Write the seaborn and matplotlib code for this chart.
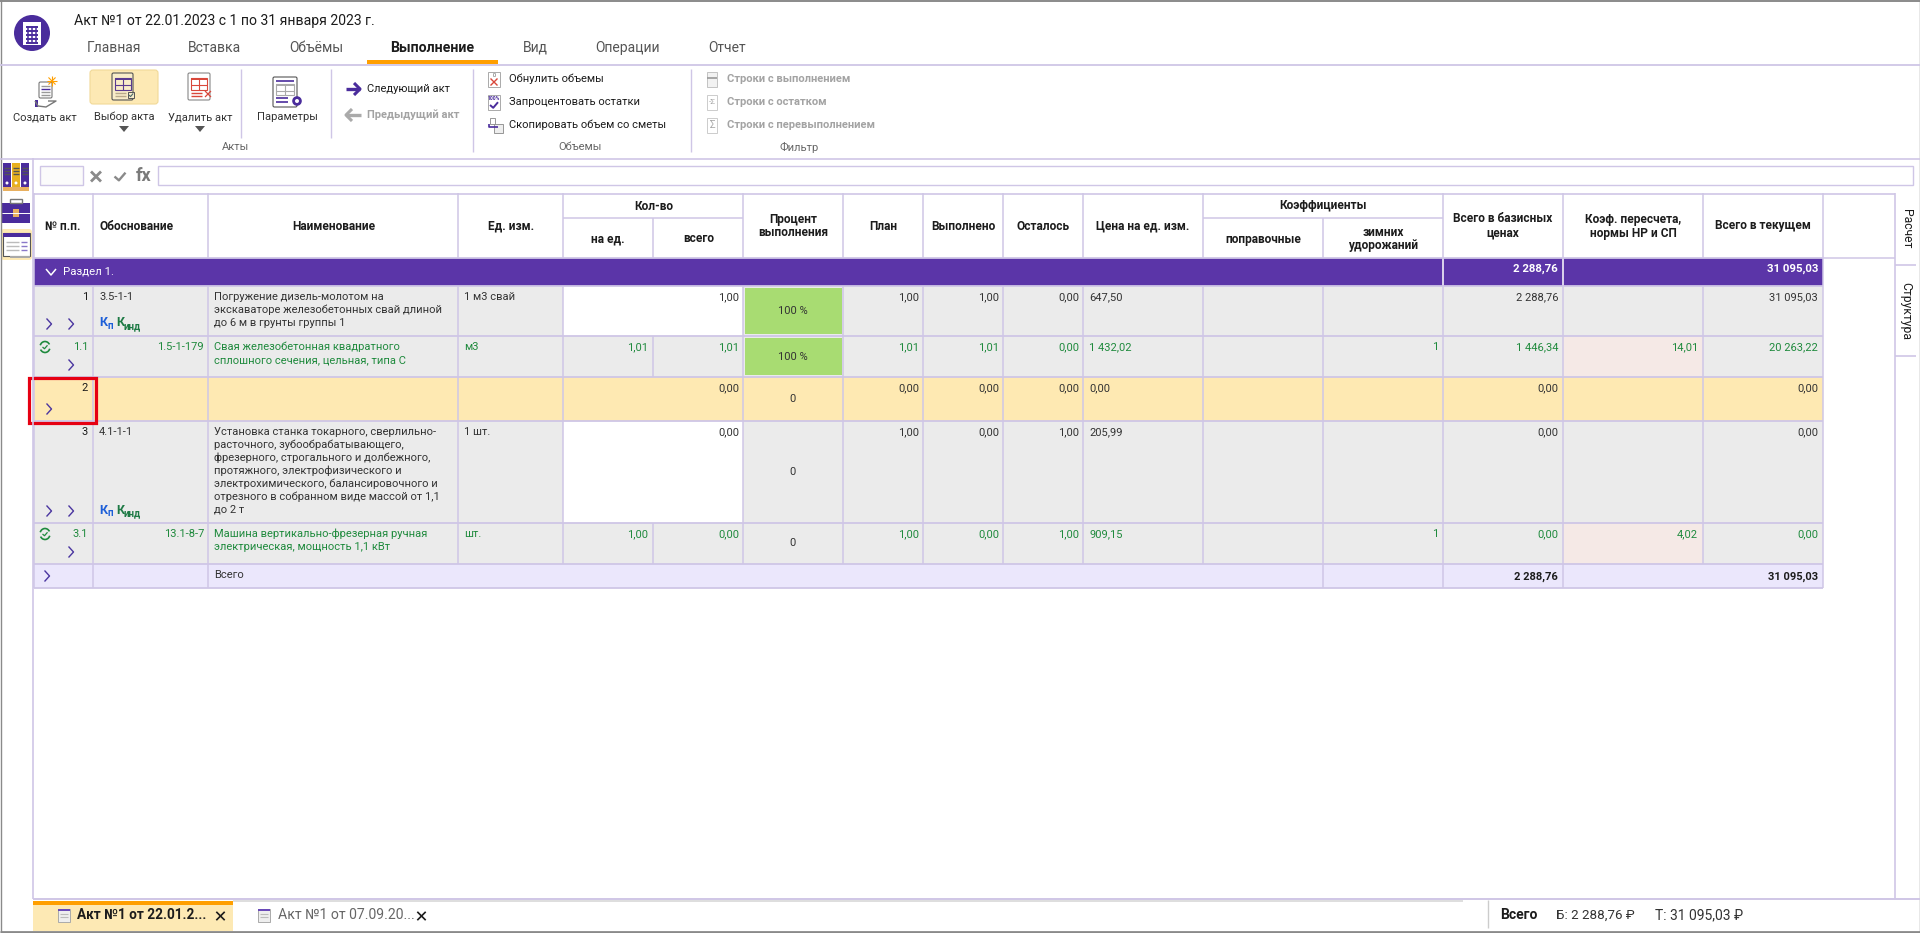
import numpy as np
import pandas as pd
import matplotlib.pyplot as plt
from matplotlib.colors import ListedColormap
from matplotlib.patches import Rectangle, Circle, FancyBboxPatch, Arc
import seaborn as sns

sns.set_theme(style="white")
plt.rcParams["font.family"] = ["Roboto", "DejaVu Sans"]

# table values
row_no = ["1", "1.1", "2", "3", "3.1"]
basis = ["3.5-1-1", "1.5-1-179", "", "4.1-1-1", "13.1-8-7"]
names = [
    ["Погружение дизель-молотом на", "экскаваторе железобетонных свай длиной", "до 6 м в грунты группы 1"],
    ["Свая железобетонная квадратного", "сплошного сечения, цельная, типа С"],
    [],
    ["Установка станка токарного, сверлильно-", "расточного, зубообрабатывающего,",
     "фрезерного, строгального и долбежного,", "протяжного, электрофизического и",
     "электрохимического, балансировочного и", "отрезного в собранном виде массой от 1,1", "до 2 т"],
    ["Машина вертикально-фрезерная ручная", "электрическая, мощность 1,1 кВт"],
]
units = ["1 м3 свай", "м3", "", "1 шт.", "шт."]
qty_unit = ["", "1,01", "", "", "1,00"]
qty_total = ["1,00", "1,01", "0,00", "0,00", "0,00"]
percent = ["100 %", "100 %", "0", "0", "0"]
plan = ["1,00", "1,01", "0,00", "1,00", "1,00"]
done = ["1,00", "1,01", "0,00", "0,00", "0,00"]
left = ["0,00", "0,00", "0,00", "1,00", "1,00"]
price = ["647,50", "1 432,02", "0,00", "205,99", "909,15"]
winter = ["", "1", "", "", "1"]
total_base = ["2 288,76", "1 446,34", "0,00", "0,00", "0,00"]
recalc = ["", "14,01", "", "", "4,02"]
total_now = ["31 095,03", "20 263,22", "0,00", "0,00", "0,00"]
is_child = [False, True, False, False, True]
section_base = "2 288,76"
section_now = "31 095,03"

main_tabs = ["Главная", "Вставка", "Объёмы", "Выполнение", "Вид", "Операции", "Отчет"]

# geometry of the grid in screen pixels
col_edges = [34, 93, 208, 458, 563, 653, 743, 843, 923, 1003, 1083, 1203, 1323, 1443, 1563, 1703, 1823]
row_edges = [258, 286, 336, 377, 421, 523, 564, 588]

PURPLE = "#5b35a8"
INDIGO = "#4a2c9c"
GRID = "#cfc6e6"
GREY = "#ebebeb"
YELLOW = "#fee9b2"
LILAC = "#ebe7fc"
PINK = "#f5e9e6"
WHITE = "#ffffff"
GREEN = "#1f8a3d"
DARK = "#333333"
BLACK = "#1c1c1c"
MUTED = "#a3a3a3"
RED = "#d9483b"

# colour code of every table cell: 0 purple, 1 grey, 2 white, 3 yellow, 4 pink, 5 lilac
codes = np.ones((7, 16), dtype=int)
codes[0, :] = 0
codes[1, 4:6] = 2
codes[4, 4:6] = 2
codes[3, :] = 3
codes[2, 14] = 4
codes[5, 14] = 4
codes[6, :] = 5
cell_cmap = ListedColormap([PURPLE, GREY, WHITE, YELLOW, PINK, LILAC])

fig = plt.figure(figsize=(19.2, 9.33), dpi=100)
fig.patch.set_facecolor("white")

ax = fig.add_axes([34 / 1920, 1 - 588 / 933, (1823 - 34) / 1920, (588 - 258) / 933], zorder=1)
sns.heatmap(pd.DataFrame(codes), cmap=cell_cmap, vmin=-0.5, vmax=5.5, cbar=False,
            xticklabels=False, yticklabels=False, ax=ax)

col_idx = np.arange(len(col_edges), dtype=float)
row_idx = np.arange(len(row_edges), dtype=float)
ax.set_xscale("function", functions=(lambda v: np.interp(v, col_idx, col_edges),
                                     lambda v: np.interp(v, col_edges, col_idx)))
ax.set_yscale("function", functions=(lambda v: np.interp(v, row_idx, row_edges),
                                     lambda v: np.interp(v, row_edges, row_idx)))
ax.set_xlim(0, 16)
ax.set_ylim(7, 0)
ax.set_xticks([])
ax.set_yticks([])
ax.minorticks_off()
ax.set_xlabel("")
ax.set_ylabel("")
for s in ax.spines.values():
    s.set_visible(False)

# inner grid, some cells are merged
skip = {0: set(range(1, 16)) - {13, 14}, 1: {5}, 3: {5}, 4: {5}, 6: set(range(3, 12)) | {15}}
for r in range(7):
    for c in range(0, 17):
        if c in skip.get(r, ()):
            continue
        col = WHITE if r == 0 and c in (13, 14) else GRID
        ax.vlines(c, r, r + 1, color=col, lw=1.1, clip_on=False)
ax.hlines(range(8), 0, 16, color=GRID, lw=1.3, clip_on=False)

# screen layer for the texts and the application frame
ui = fig.add_axes([0, 0, 1, 1], zorder=2)
ui.set_xlim(0, 1920)
ui.set_ylim(933, 0)
ui.axis("off")


def txt(x, y, s, size=8, color=DARK, ha="left", weight="normal", **kw):
    ui.text(x, y, s, fontsize=size, color=color, ha=ha, va="center", fontweight=weight, **kw)


def box(x0, y0, x1, y1, fc="none", ec="none", lw=1.0, **kw):
    ui.add_patch(Rectangle((x0, y0), x1 - x0, y1 - y0, facecolor=fc, edgecolor=ec, lw=lw, **kw))


def line(xs, ys, color=GRID, lw=1.0, **kw):
    ui.plot(xs, ys, color=color, lw=lw, solid_capstyle="butt", **kw)


def chevron(x, y, color="#4a35a0"):
    line([x - 2.5, x + 2.5, x - 2.5], [y - 5.5, y, y + 5.5], color=color, lw=1)


def cross(x, y, r, color, lw=1.2):
    line([x - r, x + r], [y - r, y + r], color=color, lw=lw)
    line([x - r, x + r], [y + r, y - r], color=color, lw=lw)


def tick(x, y, r, color, lw=1.5):
    line([x - r, x - r * 0.2, x + r], [y, y + r * 0.7, y - r * 0.7], color=color, lw=lw)


def page(x0, y0, x1, y1, fc="white", ec="#555555"):
    ui.add_patch(FancyBboxPatch((x0, y0), x1 - x0, y1 - y0, boxstyle="round,pad=0,rounding_size=1.5",
                                fc=fc, ec=ec, lw=0.8))


def table_icon(x0, y0, x1, y1, color):
    box(x0, y0, x1, y1, ec=color, lw=0.8)
    box(x0, y0, x1, y0 + 2, fc=color)
    line([x0, x1], [(y0 + y1) / 2 + 1] * 2, color=color, lw=0.8)
    line([(x0 + x1) / 2] * 2, [y0, y1], color=color, lw=0.8)


def tab_icon(x, y):
    box(x - 6, y - 6.5, x + 6, y + 6.5, fc="#eeeeee", ec="#aaaaaa", lw=0.7)
    box(x - 6, y - 6.5, x + 6, y - 4, fc="#6a4ab8")
    for yy in (y - 1, y + 2):
        line([x - 4, x + 4], [yy, yy], color="#bbbbbb", lw=0.8)


# outer frame
line([0.5, 0.5], [0, 933], color="#8a8a8a", lw=1)
line([1919.5, 1919.5], [0, 933], color="#8a8a8a", lw=1)
line([0, 1920], [0.8, 0.8], color="#8a8a8a", lw=1.4)
line([0, 1920], [932, 932], color="#8a8a8a", lw=2)

# title and main tabs
ui.add_patch(Circle((32, 33), 18, fc=INDIGO, ec="none"))
box(23, 22, 41, 45, fc="white")
for gy in range(27, 44, 4):
    line([26, 38], [gy, gy], color=INDIGO, lw=1.4)
for gx in range(28, 38, 4):
    line([gx, gx], [26, 43], color=INDIGO, lw=1.1)
txt(74, 21, "Акт №1 от 22.01.2023 с 1 по 31 января 2023 г.", size=10.1, color=BLACK)
tab_x = [114, 214, 316, 432, 535, 628, 727]
for x, name in zip(tab_x, main_tabs):
    active = name == "Выполнение"
    txt(x, 48, name, size=10.2 if active else 10, ha="center", color=BLACK if active else "#555555",
        weight="bold" if active else "normal")
box(367, 60, 498, 64, fc="#ff9f00")
line([0, 1920], [64.5, 64.5], lw=1.3)

# ribbon: create act
page(39, 82, 52, 98, ec="#777777")
for yy, c in ((86, "#999999"), (89, INDIGO), (92, "#999999"), (95, "#999999")):
    line([41, 50], [yy, yy], color=c, lw=1)
line([35, 38, 46, 56, 48], [101, 106, 107, 101, 101], color="#777777", lw=1)
box(35, 100, 38, 107, fc=INDIGO)
for a in np.arange(0, 180, 45):
    dx, dy = 5 * np.cos(np.radians(a)), 5 * np.sin(np.radians(a))
    line([52 - dx, 52 + dx], [81 - dy, 81 + dy], color="#ff9f00", lw=0.8)

# ribbon: choose act
ui.add_patch(FancyBboxPatch((90, 70), 68, 34, boxstyle="round,pad=0,rounding_size=3",
                            fc="#fde9b4", ec="#f1d998", lw=0.8))
page(112, 73, 133, 100, fc="#f8ecc9")
table_icon(114.5, 78, 131, 90, "#5a3a90")
for yy in (93, 96):
    line([115, 126], [yy, yy], color="#b8a98a", lw=1)
box(128, 92, 134, 98, fc="#f8ecc9", ec="#555555", lw=0.7)
tick(131, 95, 2.2, "#4a6a6a", lw=0.8)

# ribbon: delete act
page(188, 73, 210, 100, fc="white", ec="#888888")
table_icon(191, 78, 207, 90, RED)
for yy in (93, 96):
    line([191, 202], [yy, yy], color=RED, lw=1)
cross(208, 94, 3, RED, lw=0.9)

# ribbon: parameters
page(273, 77, 297, 107, fc="white", ec="#555555")
line([276, 294], [80.5, 80.5], color=INDIGO, lw=1.2)
table_icon(276, 84, 294, 95, "#aaaaaa")
line([276, 288], [98, 98], color=INDIGO, lw=1.2)
line([276, 288], [102, 102], color=INDIGO, lw=1.2)
ui.add_patch(Circle((297, 101), 3.4, fc="white", ec=INDIGO, lw=2))

txt(45, 117, "Создать акт", ha="center", size=8)
txt(124, 117, "Выбор акта", ha="center", size=8)
txt(200, 117, "Удалить акт", ha="center", size=8)
txt(287, 117, "Параметры", ha="center", size=8)
for cx in (124, 200):
    ui.fill([cx - 5, cx + 5, cx], [126, 126, 132], color="#555555", lw=0)
txt(235, 147, "Акты", ha="center", size=8, color="#666666")
txt(580, 147, "Объемы", ha="center", size=8, color="#666666")
txt(799, 147, "Фильтр", ha="center", size=8, color="#666666")
for x, y1 in ((241, 138), (331, 138), (473, 152), (691, 152)):
    line([x, x], [69, y1], lw=1)

# ribbon: next and previous act
line([346, 360], [89, 89], color=INDIGO, lw=2.4)
line([354, 360, 354], [83, 89, 95], color=INDIGO, lw=2.2)
line([346, 361], [115, 115], color="#aaaaaa", lw=2.4)
line([352, 346, 352], [109, 115, 121], color="#aaaaaa", lw=2.2)
txt(367, 89, "Следующий акт", size=8, color=BLACK)
txt(367, 115, "Предыдущий акт", size=8, color=MUTED, weight="bold")

# ribbon: volume commands
box(488, 72, 500, 87, fc="white", ec="#aaaaaa", lw=0.7)
cross(494, 82, 3.5, RED, lw=1)
txt(494, 75.5, "0", size=4, ha="center", color="#555555")
box(488, 95, 500, 110, fc="white", ec="#aaaaaa", lw=0.7)
txt(494, 98.5, "100%", size=3.6, ha="center", color=INDIGO, weight="bold")
tick(494, 105, 4, INDIGO, lw=1.4)
box(490, 118, 495, 124, fc="white", ec="#888888", lw=0.6)
box(494, 124, 503, 133, fc="#eeeeee", ec="#888888", lw=0.6)
line([489, 489, 498], [124, 127, 127], color=INDIGO, lw=1.2)
txt(509, 79, "Обнулить объемы", size=8, color=BLACK)
txt(509, 102, "Запроцентовать остатки", size=8, color=BLACK)
txt(509, 125, "Скопировать объем со сметы", size=8, color=BLACK)

# ribbon: filter commands
box(707, 72, 717, 87, fc="#f2f2f2", ec="#bbbbbb", lw=0.6)
line([707, 717], [78, 78], color="#999999", lw=1.2)
box(707, 95, 717, 110, fc="white", ec="#cccccc", lw=0.7)
txt(712, 102.5, "-Σ", size=6, ha="center", color="#aaaaaa")
box(707, 118, 717, 133, fc="white", ec="#cccccc", lw=0.7)
txt(712, 125.5, "Σ", size=7, ha="center", color="#aaaaaa")
for y, label in zip((79, 102, 125), ("Строки с выполнением", "Строки с остатком", "Строки с перевыполнением")):
    txt(727, y, label, size=8, color=MUTED, weight="bold")
line([0, 1920], [158.5, 158.5], lw=1.2)

# formula bar
box(40, 166, 83, 185, fc="#fbfbfb", ec=GRID)
cross(96, 176.5, 5, "#8a8a8a", lw=2)
tick(120, 176.5, 5.5, "#8a8a8a", lw=1.7)
txt(144, 176, "fx", size=13, ha="center", color="#7a7a7a", weight="bold")
box(158, 166, 1913, 185, fc="white", ec=GRID)

# left toolbar
line([33, 33], [158, 899], lw=1.2)
for i, c in enumerate((INDIGO, "#e8b020", INDIGO)):
    box(3 + i * 9, 163, 11 + i * 9, 187, fc=c)
    for yy in (168, 171, 174):
        line([4 + i * 9, 10 + i * 9], [yy, yy], color="#555555", lw=1)
    ui.add_patch(Circle((7 + i * 9, 183), 1.5, fc="white", ec="none"))
box(3, 187, 29, 191, fc="#e8b060")
box(2, 203, 30, 223, fc=INDIGO)
box(10, 198.5, 22, 203, ec="#777777", lw=1)
line([2, 30], [213, 213], color="white", lw=0.7)
box(13, 209, 19, 217, fc="#e8b060")
ui.add_patch(FancyBboxPatch((1, 229), 31, 31, boxstyle="round,pad=0,rounding_size=3", fc="#fde9b4", ec="none"))
box(3, 233, 30, 256, fc="white", ec="#555555", lw=0.8)
box(3, 233, 30, 237, fc=INDIGO)
for y, c in ((242, "#bbbbbb"), (246, "#bbbbbb"), (250, "#bbbbbb")):
    line([6, 19], [y, y], color=c, lw=1)
    line([21, 27], [y, y], color="#8a78c9", lw=1)
box(10, 256, 30, 258, fc="#aaaaaa")

# table header
line([34, 1895], [193.5, 193.5], lw=1.2)
for x in col_edges:
    if x in (653, 1323):
        line([x, x], [218, 258], lw=1.1)
    else:
        line([x, x], [193, 258], lw=1.1)
line([563, 743], [218, 218], lw=1.1)
line([1203, 1443], [218, 218], lw=1.1)
line([1823, 1895], [258, 258], lw=1.1)
H = dict(size=8.6, color=BLACK, weight="bold")
txt(63, 226, "№ п.п.", ha="center", **H)
txt(100, 226, "Обоснование", **H)
txt(334, 226, "Наименование", ha="center", **H)
txt(511, 226, "Ед. изм.", ha="center", **H)
txt(654, 206, "Кол-во", ha="center", **H)
txt(608, 239, "на ед.", ha="center", **H)
txt(699, 239, "всего", ha="center", **H)
txt(793, 219, "Процент", ha="center", **H)
txt(793, 233, "выполнения", ha="center", **H)
txt(883, 226, "План", ha="center", **H)
txt(963, 226, "Выполнено", ha="center", **H)
txt(1043, 226, "Осталось", ha="center", **H)
txt(1143, 226, "Цена на ед. изм.", ha="center", **H)
txt(1323, 206, "Коэффициенты", ha="center", **H)
txt(1263, 239, "поправочные", ha="center", **H)
txt(1383, 232, "зимних", ha="center", **H)
txt(1383, 246, "удорожаний", ha="center", **H)
txt(1503, 219, "Всего в базисных", ha="center", **H)
txt(1503, 233, "ценах", ha="center", **H)
txt(1633, 219, "Коэф. пересчета,", ha="center", **H)
txt(1633, 233, "нормы НР и СП", ha="center", **H)
txt(1763, 226, "Всего в текущем", ha="center", **H)

# section row
line([46, 51, 56], [269, 275, 269], color="white", lw=1.1)
txt(63, 272, "Раздел 1.", color="white", size=8.2)
txt(1558, 269, section_base, color="white", ha="right", weight="bold", size=8.2)
txt(1818, 269, section_now, color="white", ha="right", weight="bold", size=8.2)

# data rows
B = 8
for i in range(5):
    top, bot = row_edges[i + 1], row_edges[i + 2]
    y = top + 11
    fg = GREEN if is_child[i] else DARK
    txt(88, y, row_no[i], ha="right", color=GREEN if is_child[i] else BLACK, size=B)
    if is_child[i]:
        txt(204, y, basis[i], ha="right", color=GREEN, size=B)
        ui.add_patch(Arc((45, y), 10, 11, theta1=20, theta2=150, ec=GREEN, lw=1.2))
        ui.add_patch(Arc((45, y), 10, 11, theta1=200, theta2=330, ec=GREEN, lw=1.2))
        tick(45, y, 2.5, GREEN, lw=0.9)
    else:
        txt(99, y, basis[i], color=DARK, size=B)
    for k, s in enumerate(names[i]):
        txt(214, y + 13 * k, s, color=fg, size=B)
    txt(464, y, units[i], color=fg, size=B)
    txt(648, y, qty_unit[i], ha="right", color=fg, size=B)
    txt(739, y, qty_total[i], ha="right", color=fg, size=B)
    if percent[i].startswith("100"):
        box(745, top + 2, 842, bot - 2, fc="#a8dc72")
    txt(793, (top + bot) / 2, percent[i], ha="center", color=DARK, size=B)
    txt(919, y, plan[i], ha="right", color=fg, size=B)
    txt(999, y, done[i], ha="right", color=fg, size=B)
    txt(1079, y, left[i], ha="right", color=fg, size=B)
    txt(1089, y, price[i], color=fg, size=B)
    txt(1438, y, winter[i], ha="right", color=fg, size=B)
    txt(1558, y, total_base[i], ha="right", color=fg, size=B)
    txt(1698, y, recalc[i], ha="right", color=fg, size=B)
    txt(1818, y, total_now[i], ha="right", color=fg, size=B)
    # expanders and coefficient marks sit at the bottom of the row
    cy = bot - 12
    if not is_child[i]:
        chevron(49, cy)
    if i != 2:
        chevron(71, cy)
    if i in (0, 3):
        txt(99, cy - 1, "К", color="#1d5fd8", weight="bold", size=9)
        txt(107, cy + 2, "п", color="#1d5fd8", weight="bold", size=7)
        txt(116, cy - 1, "К", color="#1e7a45", weight="bold", size=9)
        txt(124, cy + 2, "инд", color="#1e7a45", weight="bold", size=7)

# selected cell
box(29, 378, 96, 423, ec="#e60012", lw=2.3)

# total row
chevron(47, 576)
txt(214, 575, "Всего", color=DARK, size=B)
txt(1558, 577, section_base, ha="right", color=BLACK, weight="bold", size=B)
txt(1818, 577, section_now, ha="right", color=BLACK, weight="bold", size=B)

# side tabs
line([1895, 1895], [193, 899], lw=1.2)
line([1895, 1916], [265, 265], lw=1.2)
line([1895, 1916], [356, 356], lw=1.2)
txt(1906, 229, "Расчет", ha="center", rotation=270, rotation_mode="anchor", color=BLACK, size=8.7)
txt(1906, 311, "Структура", ha="center", rotation=270, rotation_mode="anchor", color=BLACK, size=8.7)

# bottom bar
line([33, 1920], [899, 899], lw=1.4)
box(33, 901, 233, 931, fc="#fde9b4")
box(33, 901, 233, 905, fc="#ff9f00")
line([233, 1463], [900.5, 900.5], color="#d8d8d8", lw=1.2)
tab_icon(64, 915)
txt(77, 915, "Акт №1 от 22.01.2...", size=9.8, color=BLACK, weight="bold")
cross(220.5, 916, 4.2, BLACK, lw=1.2)
tab_icon(264, 915)
txt(278, 915, "Акт №1 от 07.09.20...", size=10.1, color="#666666")
cross(421.5, 916, 4.2, BLACK, lw=1.2)
line([1488, 1488], [900, 928], color="#cccccc", lw=1)
txt(1500, 915, "Всего", size=10, color=BLACK, weight="bold")
txt(1556, 915, "Б: 2 288,76 ₽", size=9.6, color=DARK)
txt(1655, 915, "Т: 31 095,03 ₽", size=10, color=DARK)

fig.savefig("out.png", dpi=100)
